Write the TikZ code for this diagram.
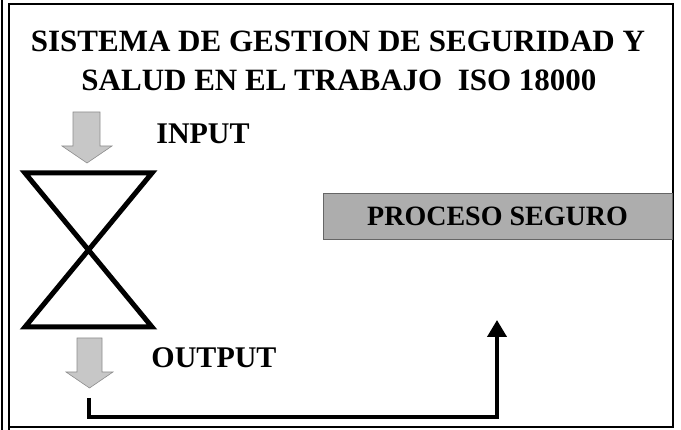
\documentclass[tikz,border=0pt]{standalone}
\usepackage{fontspec}
\setmainfont{Liberation Serif}
\usetikzlibrary{arrows.meta}

\begin{document}
\begin{tikzpicture}[x=1pt,y=-1pt]
\useasboundingbox (0,0) rectangle (681,430);
\tikzset{titulo/.style={font=\bfseries\fontsize{31}{36}\selectfont,inner sep=0pt}}
\tikzset{etiqueta/.style={font=\bfseries\fontsize{30}{34}\selectfont,inner sep=0pt}}
\tikzset{flechagris/.style={fill=black!22,draw=black!45,line width=0.6pt}}
\tikzset{conector/.style={line width=4pt,-{Triangle[width=19pt,length=17pt]}}}
% marco
\draw[line width=1.2pt] (2,0) -- (2,430);
\draw[line width=1.8pt] (9,430) -- (9,4) -- (673,4) -- (673,427) -- (9,427);
% titulo
\node[titulo] (t1) at (338,41) {SISTEMA DE GESTION DE SEGURIDAD Y};
\node[titulo] (t2) at (339,80) {SALUD EN EL TRABAJO\ \ ISO 18000};
\node[etiqueta] (input) at (203,134) {INPUT};
\node[etiqueta] (output) at (214,358) {OUTPUT};
% reloj de arena
\coordinate (a1) at (25,173);
\coordinate (a2) at (152,173);
\coordinate (b1) at (25,327);
\coordinate (b2) at (152,327);
\draw[line width=5pt,line join=miter] (a1) -- (a2) -- (b1) -- (b2) -- cycle;
% flechas grises
\draw[flechagris] (73,112) -- (100,112) -- (100,146) -- (112,146) -- (87,163) -- (62,146) -- (73,146) -- cycle;
\draw[flechagris] (77,338) -- (102,338) -- (102,372) -- (113,372) -- (89.5,388) -- (66,372) -- (77,372) -- cycle;
% proceso
\node[style={fill=black!32,draw=black!60,minimum width=349pt,minimum height=46pt,inner sep=0pt,font=\bfseries\fontsize{28}{32}\selectfont}] (proceso) at (497.5,216) {PROCESO SEGURO};
% retorno
\coordinate (salida) at (89,398);
\coordinate (esquina) at (497,417);
\coordinate (meta) at (497,320);
\draw[conector] (salida) |- (esquina) -- (meta);
\end{tikzpicture}
\end{document}
